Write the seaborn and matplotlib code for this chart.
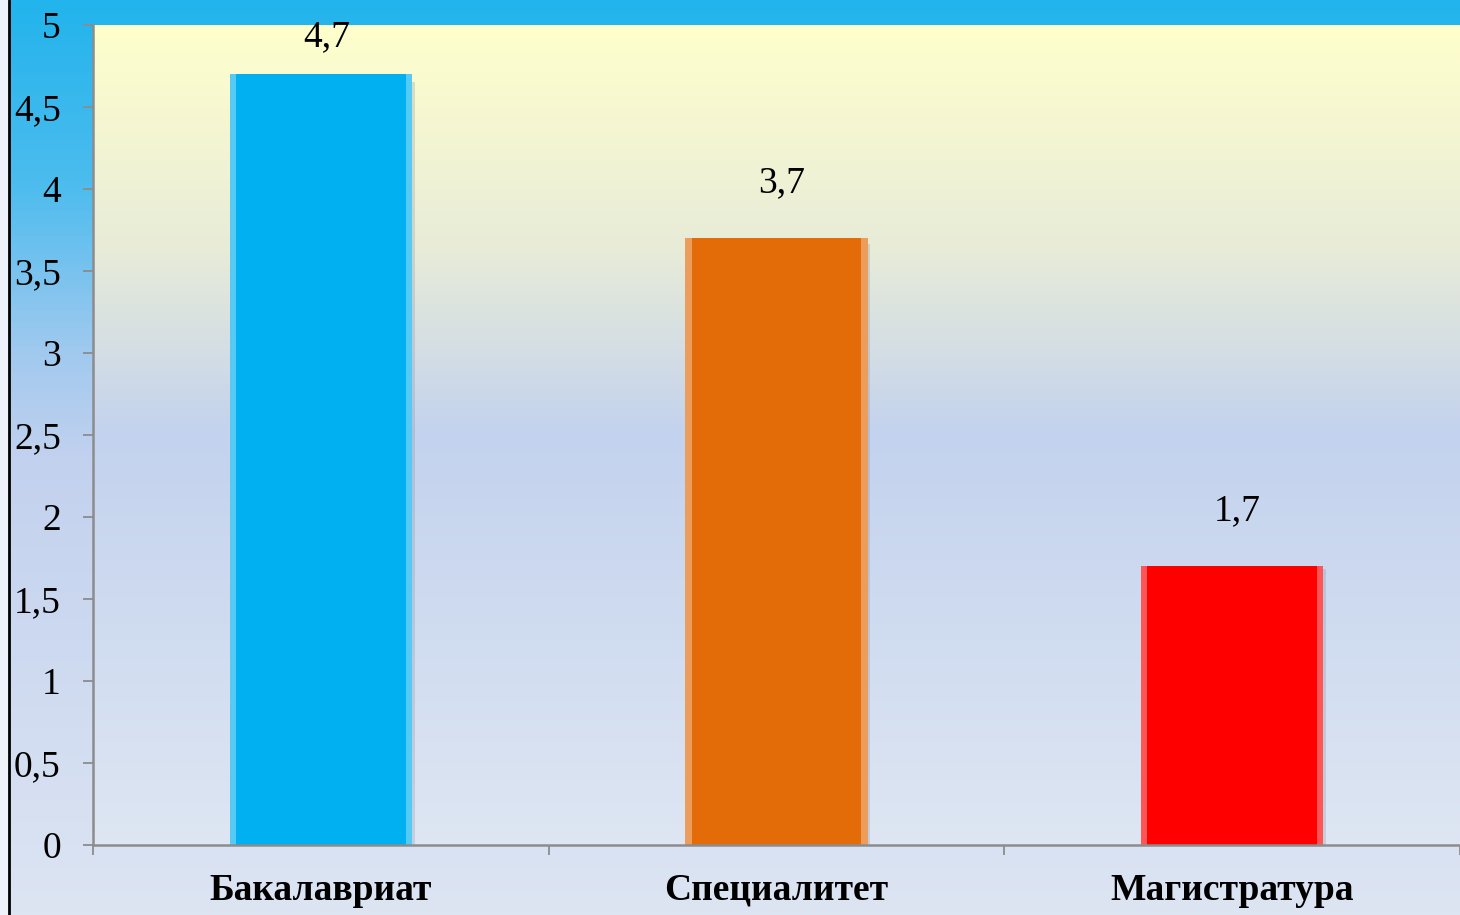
import matplotlib
matplotlib.use("Agg")
import matplotlib.pyplot as plt
import numpy as np
import pandas as pd
import seaborn as sns
from matplotlib.colors import LinearSegmentedColormap, to_rgb
from matplotlib.patches import Rectangle
from matplotlib.ticker import FixedLocator, FuncFormatter

# data
categories = ["Бакалавриат", "Специалитет", "Магистратура"]
values = [4.7, 3.7, 1.7]
bar_colors = ["#00B0F0", "#E36C09", "#FF0000"]
y_ticks = [0, 0.5, 1, 1.5, 2, 2.5, 3, 3.5, 4, 4.5, 5]

sns.set_theme(style="white")
plt.rcParams["font.family"] = ["Liberation Serif", "DejaVu Serif"]
plt.rcParams["text.color"] = "black"
plt.rcParams["xtick.labelcolor"] = "black"
plt.rcParams["ytick.labelcolor"] = "black"

W, H = 1460, 915
fig = plt.figure(figsize=(W / 100, H / 100), dpi=100)

# figure background: blue at the top fading to pale lavender
bg = fig.add_axes([0, 0, 1, 1], zorder=-5)
bg_cmap = LinearSegmentedColormap.from_list(
    "bg", [(0.0, "#22B4EC"), (0.2, "#4CBCEE"), (0.38, "#9FC9EE"),
           (0.5, "#C2D1EE"), (1.0, "#DDE5F3")])
bg.imshow(np.linspace(0, 1, 256).reshape(-1, 1), cmap=bg_cmap, aspect="auto",
          extent=[0, 1, 0, 1], origin="upper")
bg.axvspan(0, 8 / W, color="#EEF3FB", zorder=2)
bg.axvline(8.5 / W, color="black", lw=2, zorder=3)
bg.set_xlim(0, 1)
bg.set_ylim(0, 1)
bg.axis("off")

ax = fig.add_axes([93 / W, (H - 845) / H, 1 - 93 / W, (845 - 25) / H])
ax.patch.set_visible(False)

df = pd.DataFrame({"level": categories, "value": values})
sns.barplot(data=df, x="level", y="value", hue="level", palette=bar_colors,
            width=0.4, legend=False, saturation=1, ax=ax, zorder=3)

ax.set_xlim(-0.5, len(categories) - 0.5)
ax.set_ylim(0, 5)

# plot area gradient: pale yellow to soft blue
pa_cmap = LinearSegmentedColormap.from_list(
    "pa", [(0.0, "#FFFFCC"), (0.27, "#E8ECD8"), (0.5, "#C3D2EE"),
           (0.75, "#D0DCF0"), (1.0, "#DEE6F3")])
ax.imshow(np.linspace(0, 1, 256).reshape(-1, 1), cmap=pa_cmap, aspect="auto",
          extent=[-0.5, len(categories) - 0.5, 0, 5], origin="upper", zorder=0)

# bevel edges and a soft shadow on each bar
for patch, col in zip(ax.patches, bar_colors):
    x0, w, h = patch.get_x(), patch.get_width(), patch.get_height()
    patch.set_edgecolor("none")
    light = tuple(0.55 * np.array(to_rgb(col)) + 0.45)
    edge = w * 0.035
    ax.add_patch(Rectangle((x0 + w - edge * 0.2, 0), edge * 0.6, h * 0.99,
                           color="#7A8AA0", alpha=0.25, zorder=2.5, lw=0))
    ax.add_patch(Rectangle((x0, 0), edge, h, color=light, alpha=0.75,
                           zorder=4, lw=0))
    ax.add_patch(Rectangle((x0 + w - edge, 0), edge, h, color=light, alpha=0.75,
                           zorder=4, lw=0))
    label_y = min(h + 0.335, 4.93)
    ax.text(x0 + w / 2 + 0.012, label_y, f"{h:.1f}".replace(".", ","),
            ha="center", va="center", fontsize=27, color="black", zorder=5)

ax.yaxis.set_major_locator(FixedLocator(y_ticks))
ax.yaxis.set_major_formatter(FuncFormatter(lambda v, _: f"{v:g}".replace(".", ",")))
ax.set_xticks(range(len(categories)))
ax.set_xticklabels(categories, fontweight="bold")
ax.xaxis.set_minor_locator(FixedLocator([i - 0.5 for i in range(len(categories) + 1)]))

ax.tick_params(axis="y", which="major", direction="out", length=7.2, width=1.3,
               color="#8C8C8C", labelsize=27, pad=16, left=True,
               labelcolor="black")
ax.tick_params(axis="x", which="major", length=0, labelsize=27, pad=20,
               labelcolor="black")
ax.tick_params(axis="x", which="minor", direction="out", length=7.2, width=1.3,
               color="#8C8C8C", bottom=True)

ax.set_xlabel("")
ax.set_ylabel("")
for side in ["top", "right"]:
    ax.spines[side].set_visible(False)
for side in ["left", "bottom"]:
    ax.spines[side].set_color("#8C8C8C")
    ax.spines[side].set_linewidth(1.8)
    ax.spines[side].set_zorder(6)

fig.savefig("out.png", dpi=100)
